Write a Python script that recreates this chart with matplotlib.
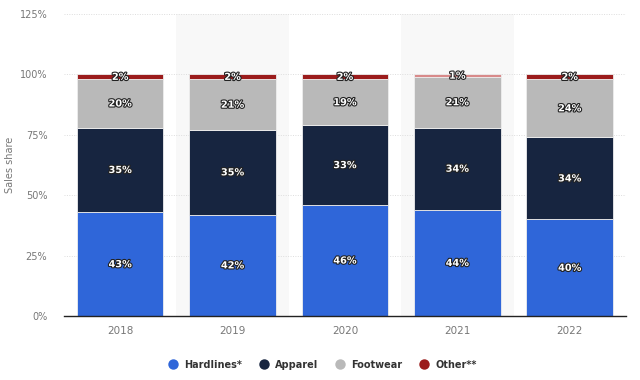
import matplotlib.pyplot as plt
import matplotlib.patheffects as pe
from matplotlib.lines import Line2D
import numpy as np

years = ['2018', '2019', '2020', '2021', '2022']
hardlines = [43, 42, 46, 44, 40]
apparel = [35, 35, 33, 34, 34]
footwear = [20, 21, 19, 21, 24]
other = [2, 2, 2, 1, 2]

series = [('Hardlines*', hardlines, '#2f66d9'),
          ('Apparel', apparel, '#172540'),
          ('Footwear', footwear, '#b9b9b9'),
          ('Other**', other, '#9b1c1c')]

fig = plt.figure(figsize=(6.4, 3.8), dpi=100)
ax = fig.add_axes([0.1, 0.168, 0.878, 0.795])

x = np.arange(len(years))

# alternating band shading
for i in x:
    if i % 2 == 1:
        ax.axvspan(i - 0.5, i + 0.5, color='#f8f8f8', zorder=0, lw=0)

for t in [25, 50, 75, 100, 125]:
    ax.axhline(t, color='#dddddd', lw=0.7, ls=(0, (1, 1.5)), zorder=1)

stroke = [pe.withStroke(linewidth=1.6, foreground='#222222')]
bottom = np.zeros(len(years))
for name, vals, color in series:
    vals = np.array(vals, dtype=float)
    colors = [color] * len(years)
    if name == 'Other**':
        colors[3] = '#d88a8a'
    ax.bar(x, vals, 0.77, bottom=bottom, color=colors, edgecolor='#eeeeee',
           linewidth=0.6, zorder=2)
    for xi, v, b in zip(x, vals, bottom):
        ax.text(xi, b + v / 2, f'{int(v)}%', ha='center', va='center',
                color='white', fontsize=7, fontweight='bold',
                path_effects=stroke, zorder=4)
    bottom += vals

ax.set_xlim(-0.5, len(years) - 0.5)
ax.set_ylim(0, 125)
ax.set_yticks([0, 25, 50, 75, 100, 125])
ax.set_yticklabels([f'{t}%' for t in [0, 25, 50, 75, 100, 125]])
ax.set_xticks(x)
ax.set_xticklabels(years)
ax.tick_params(axis='both', length=0, colors='#777777', labelsize=7.5)
ax.tick_params(axis='y', pad=12, labelsize=7)
ax.tick_params(axis='x', pad=7)
for s in ['top', 'right', 'left']:
    ax.spines[s].set_visible(False)
ax.spines['bottom'].set_color('#222222')
ax.spines['bottom'].set_linewidth(1)
ax.spines['bottom'].set_zorder(5)
ax.set_ylabel('Sales share', color='#777777', fontsize=7)
ax.yaxis.set_label_coords(-0.087, 0.5)

handles = [Line2D([], [], marker='o', ls='', markersize=7.5, color=c,
                  markeredgewidth=0) for _, _, c in series]
fig.legend(handles, [n for n, _, _ in series], loc='center',
           bbox_to_anchor=(0.5, 0.04), ncol=4, frameon=False,
           prop={'size': 7, 'weight': 'bold'}, labelcolor='#333333',
           handletextpad=0.2, columnspacing=1.2)

fig.savefig('out.png', dpi=100)
